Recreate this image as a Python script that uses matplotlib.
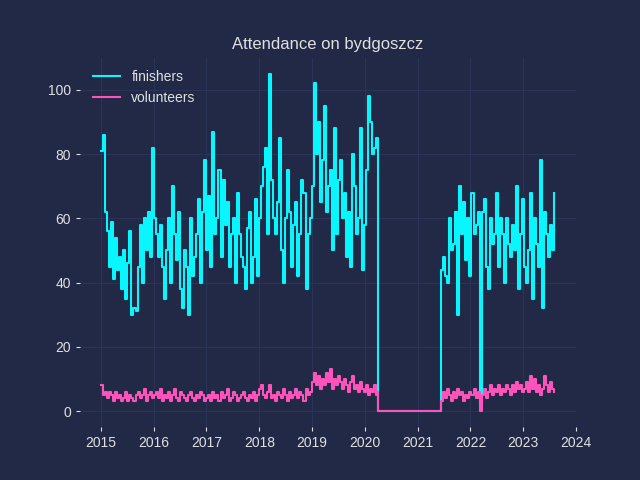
import matplotlib.pyplot as plt
import pandas as pd

finishers_a = [81, 86, 62, 56, 45, 59, 41, 54, 44, 48, 38, 50, 35, 46, 56, 30, 32, 31, 45, 58, 40, 60, 50, 62, 48, 82,
               60, 55, 48, 58, 45, 35, 50, 60, 40, 70, 55, 47, 62, 38, 32, 50, 45, 30, 60, 42, 48, 55, 66, 40, 62, 78,
               50, 67, 45, 87, 55, 60, 75, 48, 72, 58, 65, 45, 55, 60, 40, 68, 55, 48, 45, 38, 57, 62, 40, 48, 66, 42,
               60, 70, 76, 82, 55, 105, 72, 60, 55, 65, 85, 50, 40, 60, 75, 62, 45, 58, 65, 42, 55, 72, 68, 38, 55, 60,
               70, 102, 80, 90, 65, 78, 95, 62, 70, 75, 50, 88, 55, 72, 78, 60, 68, 48, 62, 45, 80, 70, 55, 60, 88, 44,
               58, 75, 98, 90, 80, 82, 85, 64]
volunteers_a = [8, 5, 6, 4, 6, 5, 3, 6, 4, 5, 3, 4, 6, 3, 5, 4, 3, 5, 6, 4, 5, 7, 3, 5, 6, 4,
                5, 6, 4, 7, 3, 5, 4, 6, 3, 5, 7, 4, 3, 6, 5, 4, 3, 5, 6, 4, 3, 5, 4, 6, 5, 3,
                4, 5, 3, 6, 4, 5, 3, 6, 4, 5, 7, 3, 4, 6, 5, 3, 4, 5, 6, 4, 3, 5, 4, 6, 3, 5,
                7, 8, 5, 4, 6, 8, 4, 5, 3, 6, 5, 4, 7, 5, 3, 6, 4, 5, 7, 4, 6, 5, 3, 7, 5, 6,
                9, 12, 8, 11, 7, 10, 8, 12, 9, 13, 7, 10, 8, 11, 9, 7, 10, 8, 6, 9, 11, 7, 8, 6, 9, 7,
                6, 8, 5, 7, 6, 8, 5, 6]
finishers_b = [44, 48, 42, 40, 60, 50, 52, 62, 30, 70, 55, 65, 47, 60, 42, 68, 55,
               58, 62, 2, 62, 66, 45, 38, 60, 52, 55, 68, 45, 60, 55, 40, 60, 52, 48, 58, 50, 70, 38, 55, 66, 45, 40,
               50, 68, 35, 60, 52, 45, 78, 32, 62, 55, 48, 58, 50, 68]
volunteers_b = [3, 6, 4, 7, 5, 3, 6, 4, 7, 5, 6, 3, 5, 4, 6, 5, 7,
                4, 6, 0, 5, 7, 4, 6, 8, 5, 7, 6, 8, 5, 7, 6, 8, 7, 5, 8, 6, 9, 7, 8, 6, 7,
                9, 6, 11, 7, 10, 6, 8, 5, 7, 11, 8, 6, 9, 7, 6]

dates_a = pd.date_range('2015-01-03', periods=len(finishers_a), freq='14D')
gap_date = pd.Timestamp('2020-04-04')
dates_b = pd.date_range('2021-06-12', periods=len(finishers_b), freq='14D')
dates = list(dates_a) + [gap_date] + list(dates_b)
finishers = finishers_a + [0] + finishers_b
volunteers = volunteers_a + [0] + volunteers_b

bg = '#212946'
txt = '#e0e0e0'
plt.rcParams.update({'figure.facecolor': bg, 'axes.facecolor': bg, 'text.color': txt,
                     'axes.labelcolor': txt, 'xtick.color': txt, 'ytick.color': txt,
                     'font.family': ['Liberation Sans', 'DejaVu Sans']})
fig, ax = plt.subplots(figsize=(6.4, 4.8), dpi=100)
ax.step(dates, finishers, where='post', color='#08F7FE', lw=1.5, label='finishers')
ax.step(dates, volunteers, where='post', color='#FE53BB', lw=1.5, label='volunteers')
ax.grid(color='#2A3459', lw=0.8)
for s in ax.spines.values():
    s.set_visible(False)
ax.tick_params(length=3, color=txt)
ax.set_xlim(pd.Timestamp('2014-08-10'), pd.Timestamp('2024-01-01'))
ax.set_ylim(-5, 110)
ax.set_xticks([pd.Timestamp(f'{y}-01-01') for y in range(2015, 2025)])
ax.set_xticklabels([str(y) for y in range(2015, 2025)])
ax.set_title('Attendance on bydgoszcz', color=txt)
ax.legend(loc='upper left', frameon=False)
fig.savefig('out.png')
